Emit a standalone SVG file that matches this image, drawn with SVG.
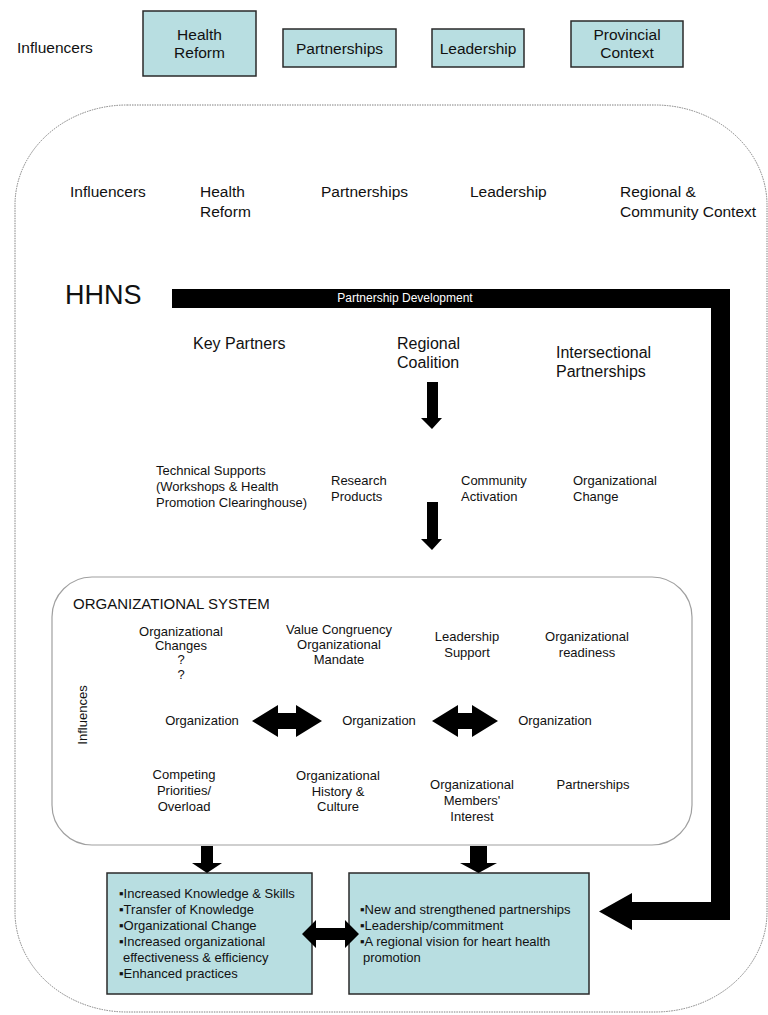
<svg xmlns="http://www.w3.org/2000/svg" width="768" height="1015" viewBox="0 0 768 1015">
  <style>
    text { font-family: "Liberation Sans", Arial, "DejaVu Sans", sans-serif; fill: #111; }
    .t15 { font-size: 15.5px; }
    .t16 { font-size: 16px; }
    .t13 { font-size: 13px; }
    .t12 { font-size: 13px; }
    .mid { text-anchor: middle; }
    .box { fill: #b8dee1; stroke: #2a2a2a; stroke-width: 1.5; }
    .frame { fill: none; stroke: #808080; stroke-width: 1; stroke-dasharray: 1.5 1; }
    .inner { fill: none; stroke: #a0a0a0; stroke-width: 1.2; }
    .arrow { fill: #000; }
  </style>

  <rect width="768" height="1015" fill="#fff"/>

  <!-- Provincial-level influencers -->
  <g id="influencers-top">
    <text class="t15" x="17" y="53">Influencers</text>
  </g>
  <g id="health-reform">
    <rect class="box" x="143" y="11" width="113" height="65"/>
    <text class="t15 mid" x="199.5" y="40">Health</text>
    <text class="t15 mid" x="199.5" y="58">Reform</text>
  </g>
  <g id="partnerships-top">
    <rect class="box" x="283" y="29" width="113" height="38"/>
    <text class="t15 mid" x="339.5" y="54">Partnerships</text>
  </g>
  <g id="leadership-top">
    <rect class="box" x="432" y="29" width="92" height="38"/>
    <text class="t15 mid" x="478" y="54">Leadership</text>
  </g>
  <g id="provincial-context">
    <rect class="box" x="571" y="21" width="112" height="46"/>
    <text class="t15 mid" x="627" y="40">Provincial</text>
    <text class="t15 mid" x="627" y="58">Context</text>
  </g>

  <!-- Regional frame -->
  <g id="regional-frame">
    <rect class="frame" x="15" y="105" width="752" height="907" rx="112" ry="100"/>
  </g>

  <!-- Regional-level influencers -->
  <g id="regional-influencers">
    <text class="t15" x="70" y="197">Influencers</text>
    <text class="t15" x="200" y="197">Health</text>
    <text class="t15" x="200" y="217">Reform</text>
    <text class="t15" x="321" y="197">Partnerships</text>
    <text class="t15" x="470" y="197">Leadership</text>
    <text class="t15" x="620" y="197">Regional &amp;</text>
    <text class="t15" x="620" y="217">Community Context</text>
  </g>

  <!-- HHNS -->
  <g id="hhns">
    <text x="65" y="304" style="font-size:27px">HHNS</text>
  </g>

  <g id="key-partners">
    <text class="t16" x="193" y="349">Key Partners</text>
  </g>
  <g id="regional-coalition">
    <text class="t16" x="397" y="349">Regional</text>
    <text class="t16" x="397" y="368">Coalition</text>
  </g>
  <g id="intersectional-partnerships">
    <text class="t16" x="556" y="358">Intersectional</text>
    <text class="t16" x="556" y="377">Partnerships</text>
  </g>

  <g id="technical-supports">
    <text class="t13" x="156" y="475">Technical Supports</text>
    <text class="t13" x="156" y="491">(Workshops &amp; Health</text>
    <text class="t13" x="156" y="507">Promotion Clearinghouse)</text>
  </g>
  <g id="research-products">
    <text class="t13" x="331" y="485">Research</text>
    <text class="t13" x="331" y="501">Products</text>
  </g>
  <g id="community-activation">
    <text class="t13" x="461" y="485">Community</text>
    <text class="t13" x="461" y="501">Activation</text>
  </g>
  <g id="organizational-change">
    <text class="t13" x="573" y="485">Organizational</text>
    <text class="t13" x="573" y="501">Change</text>
  </g>

  <!-- Organizational system -->
  <g id="organizational-system">
    <rect class="inner" x="52" y="577" width="640" height="268" rx="40" ry="40"/>
    <text x="73" y="609" style="font-size:15px">ORGANIZATIONAL SYSTEM</text>
    <text class="t12" transform="translate(87 715) rotate(-90)" text-anchor="middle">Influences</text>

    <g class="t12 mid">
      <text x="181" y="636">Organizational</text>
      <text x="181" y="650">Changes</text>
      <text x="181" y="664">?</text>
      <text x="181" y="679">?</text>

      <text x="339" y="634">Value Congruency</text>
      <text x="339" y="649">Organizational</text>
      <text x="339" y="664">Mandate</text>

      <text x="467" y="641">Leadership</text>
      <text x="467" y="657">Support</text>

      <text x="587" y="641">Organizational</text>
      <text x="587" y="657">readiness</text>

      <text x="202" y="725">Organization</text>
      <text x="379" y="725">Organization</text>
      <text x="555" y="725">Organization</text>

      <text x="184" y="779">Competing</text>
      <text x="184" y="795">Priorities/</text>
      <text x="184" y="811">Overload</text>

      <text x="338" y="780">Organizational</text>
      <text x="338" y="796">History &amp;</text>
      <text x="338" y="811">Culture</text>

      <text x="472" y="789">Organizational</text>
      <text x="472" y="805">Members'</text>
      <text x="472" y="821">Interest</text>

      <text x="593" y="789">Partnerships</text>
    </g>
  </g>

  <!-- Outcome boxes -->
  <g id="outcomes-organization">
    <rect class="box" x="107" y="873" width="205" height="121"/>
    <g class="t13">
      <text x="119" y="898">▪Increased Knowledge &amp; Skills</text>
      <text x="119" y="914">▪Transfer of Knowledge</text>
      <text x="119" y="930">▪Organizational Change</text>
      <text x="119" y="946">▪Increased organizational</text>
      <text x="123" y="962">effectiveness &amp; efficiency</text>
      <text x="119" y="978">▪Enhanced practices</text>
    </g>
  </g>
  <g id="outcomes-region">
    <rect class="box" x="349" y="873" width="240" height="121"/>
    <g class="t13">
      <text x="360" y="914">▪New and strengthened partnerships</text>
      <text x="360" y="930">▪Leadership/commitment</text>
      <text x="360" y="946">▪A regional vision for heart health</text>
      <text x="363" y="962">promotion</text>
    </g>
  </g>

  <!-- Connectors -->
  <g id="connectors">
    <!-- Partnership development path -->
    <path class="arrow" d="M172,289 H730 V920 H632 V930 L599,911.5 L632,893 V902 H711 V308 H172 Z"/>
    <text x="405" y="302" text-anchor="middle" style="font-size:12px;fill:#fff">Partnership Development</text>

    <!-- Downward flow -->
    <path class="arrow" d="M427,382 H438 V418 H442 L432,429 L421,418 H427 Z"/>
    <path class="arrow" d="M427,502 H438 V539 H442 L432,550 L421,539 H427 Z"/>
    <path class="arrow" d="M201,846 H213 V863 H222 L207,873 L192,863 H201 Z"/>
    <path class="arrow" d="M470,846 H487 V863 H497 L478.5,873 L460,863 H470 Z"/>

    <!-- Two-way links between organizations -->
    <path class="arrow" d="M252,721 L278,705 V713 H296 V705 L322,721 L296,737 V729 H278 V737 Z"/>
    <path class="arrow" d="M432,721 L458,705 V713 H472 V705 L498,721 L472,737 V729 H458 V737 Z"/>

    <!-- Two-way link between outcome boxes -->
    <path class="arrow" d="M302,934 L316,920 V928 H345 V920 L359,934 L345,948 V940 H316 V948 Z"/>
  </g>
</svg>
